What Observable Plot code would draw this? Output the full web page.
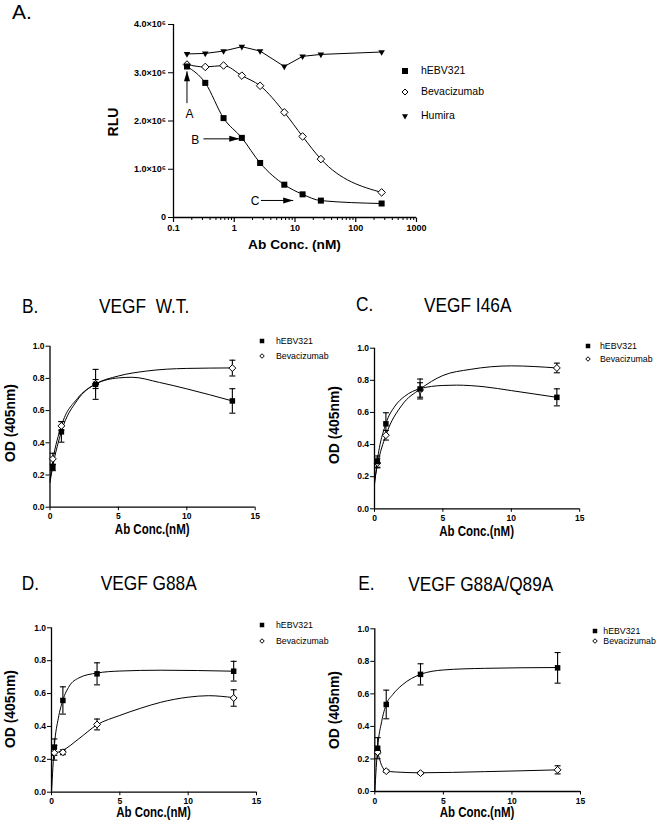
<!DOCTYPE html>
<html>
<head>
<meta charset="utf-8">
<script src="https://cdn.jsdelivr.net/npm/d3@7"></script>
<script src="https://cdn.jsdelivr.net/npm/@observablehq/plot@0.6"></script>
<style>
  body { margin: 0; background: #fff; }
  #fig { position: relative; width: 661px; height: 826px; overflow: hidden; background: #fff; color: #000; }
</style>
</head>
<body>
<div id="fig"></div>
<script>
// ---------------- Panel A data (luciferase, RLU vs Ab conc.) ----------------
const seriesA = ["hEBV321", "Bevacizumab", "Humira"];
const concA = [0.1667, 0.3333, 0.6667, 1.333, 2.667, 6.667, 13.33, 26.67, 266.7];
const rluHEBV = [3.13e6, 2.79e6, 2.06e6, 1.65e6, 1.13e6, 0.68e6, 0.48e6, 0.35e6, 0.29e6];
const rluBev = [3.17e6, 3.12e6, 3.15e6, 2.94e6, 2.73e6, 2.18e6, 1.68e6, 1.21e6, 0.52e6];
const rluHumira = [3.39e6, 3.40e6, 3.45e6, 3.54e6, 3.45e6, 3.13e6, 3.34e6, 3.38e6, 3.43e6];
const xTicksA = [0.1, 1, 10, 100, 1000];
const xTickLabelsA = ["0.1", "1", "10", "100", "1000"];
const yTicksA = [0, 1e6, 2e6, 3e6, 4e6];
const yTickLabelsA = ["0", "1.0×10⁶", "2.0×10⁶", "3.0×10⁶", "4.0×10⁶"];
// annotation arrows (data coordinates)
const arrowLabels = ["A", "B", "C"];
const arrowFromX = [0.1667, 0.311, 2.75];
const arrowFromY = [2.37e6, 1.63e6, 0.353e6];
const arrowToX = [0.1667, 1.21, 9.34];
const arrowToY = [3.03e6, 1.63e6, 0.353e6];
const arrowDir = [0, 90, 90];
const arrowLabelX = [0.183, 0.227, 2.2];
const arrowLabelY = [2.14e6, 1.60e6, 0.33e6];

// ---------------- Panels B-E data (ELISA OD405 vs Ab conc.) ----------------
const seriesOD = ["hEBV321", "Bevacizumab"];
const concOD = [0.2083, 0.8333, 3.333, 13.33];
const xTicksOD = [0, 5, 10, 15];
const xTickLabelsOD = ["0", "5", "10", "15"];
const yTicksOD = [0, 0.2, 0.4, 0.6, 0.8, 1.0];
const yTickLabelsOD = ["0.0", "0.2", "0.4", "0.6", "0.8", "1.0"];

// B: VEGF W.T.
const odB_h = [0.247, 0.468, 0.763, 0.660];
const semB_h = [0.02, 0.064, 0.093, 0.076];
const odB_b = [0.300, 0.505, 0.765, 0.864];
const semB_b = [0.035, 0.027, 0.028, 0.049];
const fitB_hX = [0, 0.2083, 0.8333, 2, 3.333, 5, 6, 8, 10, 13.33];
const fitB_hY = [0.155, 0.255, 0.47, 0.665, 0.765, 0.803, 0.807, 0.775, 0.735, 0.66];
const fitB_bX = [0, 0.2083, 0.8333, 2, 3.333, 5, 7, 10, 13.33];
const fitB_bY = [0.17, 0.29, 0.505, 0.675, 0.765, 0.815, 0.845, 0.862, 0.865];

// C: VEGF I46A
const odC_h = [0.294, 0.529, 0.746, 0.694];
const semC_h = [0.035, 0.069, 0.062, 0.053];
const odC_b = [0.285, 0.458, 0.740, 0.877];
const semC_b = [0.03, 0.03, 0.045, 0.03];
const fitC_hX = [0, 0.2083, 0.8333, 1.5, 2.2, 3.333, 5, 6, 8, 10, 13.33];
const fitC_hY = [0.15, 0.30, 0.53, 0.64, 0.70, 0.748, 0.768, 0.77, 0.76, 0.736, 0.694];
const fitC_bX = [0, 0.2083, 0.8333, 2, 3.333, 5, 7, 10, 13.33];
const fitC_bY = [0.17, 0.27, 0.458, 0.645, 0.745, 0.83, 0.868, 0.89, 0.877];

// D: VEGF G88A
const odD_h = [0.274, 0.558, 0.720, 0.736];
const semD_h = [0.05, 0.083, 0.067, 0.06];
const odD_b = [0.240, 0.243, 0.412, 0.573];
const semD_b = [0.045, 0.015, 0.033, 0.05];
const fitD_hX = [0, 0.2083, 0.5, 0.8333, 1.3, 2, 3.333, 5, 8, 13.33];
const fitD_hY = [0, 0.28, 0.45, 0.56, 0.645, 0.695, 0.725, 0.737, 0.742, 0.736];
const fitD_bX = [0, 0.2083, 0.8333, 2, 3.333, 5, 6.5, 8, 10, 11.5, 13.33];
const fitD_bY = [0.235, 0.238, 0.255, 0.325, 0.41, 0.467, 0.51, 0.547, 0.578, 0.587, 0.575];

// E: VEGF G88A/Q89A
const odE_h = [0.266, 0.535, 0.720, 0.760];
const semE_h = [0.065, 0.088, 0.065, 0.094];
const odE_b = [0.242, 0.125, 0.113, 0.133];
const semE_b = [0.01, 0.008, 0.006, 0.025];
const fitE_hX = [0, 0.2083, 0.5, 0.8333, 1.3, 2, 3.333, 5, 8, 13.33];
const fitE_hY = [0, 0.27, 0.43, 0.535, 0.595, 0.655, 0.72, 0.747, 0.757, 0.762];
const fitE_bX = [0.2083, 0.5, 0.8333, 1.5, 3.333, 8, 13.33];
const fitE_bY = [0.242, 0.16, 0.127, 0.12, 0.115, 0.122, 0.133];

// ---------------- helpers ----------------
const FONT = '"Liberation Sans", Arial, "DejaVu Sans", sans-serif';
const fig = document.getElementById("fig");
const svgNS = "http://www.w3.org/2000/svg";

const capSymbol = { draw(ctx) { ctx.moveTo(-3, 0); ctx.lineTo(3, 0); } };
const arrowHead = { draw(ctx) { ctx.moveTo(0, 0); ctx.lineTo(-3, 10); ctx.lineTo(3, 10); ctx.closePath(); } };
const majorTick = { draw(ctx) { ctx.moveTo(0, 0); ctx.lineTo(0, 4.5); } };
const minorTick = { draw(ctx) { ctx.moveTo(0, 0); ctx.lineTo(0, 2.5); } };

function baseStyle(size) {
  return { fontFamily: FONT, fontSize: size + "px", fontWeight: "bold", background: "transparent", overflow: "visible", color: "black" };
}
function place(el, left, top) {
  el.style.position = "absolute";
  el.style.left = left + "px";
  el.style.top = top + "px";
  el.style.maxWidth = "none";
  fig.appendChild(el);
}
// text div whose box hugs the capital letters (line-height 0.75em)
function addText(str, { x, baseline, size, weight = "normal", anchor = "start", scaleY = 1 }) {
  const d = document.createElement("div");
  d.textContent = str;
  d.style.cssText = `position:absolute;white-space:pre;font-family:${FONT};font-size:${size}px;line-height:${0.75 * size}px;font-weight:${weight};left:${x}px;top:${baseline - 0.7215 * size}px;`;
  const tf = [];
  if (anchor === "middle") tf.push("translateX(-50%)");
  if (scaleY !== 1) tf.push(`scaleY(${scaleY})`);
  d.style.transformOrigin = `50% ${0.7215 * size}px`;
  d.style.transform = tf.join(" ");
  fig.appendChild(d);
}
function addVText(str, { cx, cy, size, weight = "bold" }) {
  const d = document.createElement("div");
  d.textContent = str;
  d.style.cssText = `position:absolute;white-space:pre;font-family:${FONT};font-size:${size}px;line-height:${0.75 * size}px;font-weight:${weight};left:${cx}px;top:${cy}px;transform:translate(-50%,-50%) rotate(-90deg);`;
  fig.appendChild(d);
}
function symbolPath(kind, s) {
  if (kind === "square") return d3.symbol(d3.symbolSquare, s * s)();
  if (kind === "diamond") return d3.symbol(d3.symbolDiamond2, Math.pow(s / 0.62625 / 2, 2))();
  return d3.symbol(d3.symbolTriangle2, Math.pow(s / 1.1821, 2))();
}
function addLegend({ markerX, textX, rows, size, labels, kinds, symSize }) {
  labels.forEach((label, i) => {
    const y = rows[i];
    const s = document.createElementNS(svgNS, "svg");
    s.setAttribute("width", 14); s.setAttribute("height", 14);
    s.style.cssText = `position:absolute;left:${markerX - 7}px;top:${y - 7}px;overflow:visible;`;
    const p = document.createElementNS(svgNS, "path");
    p.setAttribute("d", symbolPath(kinds[i], symSize));
    if (kinds[i] === "diamond") { p.setAttribute("fill", "white"); p.setAttribute("stroke", "black"); p.setAttribute("stroke-width", "1"); }
    else p.setAttribute("fill", "black");
    let tr = "translate(7,7)";
    if (kinds[i] === "triangle") tr += " rotate(180)";
    p.setAttribute("transform", tr);
    s.appendChild(p);
    fig.appendChild(s);
    addText(label, { x: textX, baseline: y + 0.358 * size, size });
  });
}

// ---------------- Panel A ----------------
const rowsA = concA.map((c, i) => ({ c, h: rluHEBV[i], b: rluBev[i], m: rluHumira[i] }));
const arrows = arrowLabels.map((label, i) => ({
  label, x1: arrowFromX[i], y1: arrowFromY[i], x2: arrowToX[i], y2: arrowToY[i],
  rot: arrowDir[i], lx: arrowLabelX[i], ly: arrowLabelY[i]
}));
const minorA = [];
for (const d of [0.1, 1, 10, 100]) for (let k = 2; k <= 9; k++) minorA.push(d * k);

const plotA = Plot.plot({
  width: 661, height: 262,
  marginTop: 24, marginLeft: 173, marginRight: 245, marginBottom: 45,
  x: { type: "log", domain: [0.1, 1000] },
  y: { domain: [0, 4e6] },
  style: baseStyle(9),
  marks: [
    Plot.axisX({ ticks: xTicksA, tickSize: 0, tickPadding: 7.5, tickFormat: (d) => xTickLabelsA[xTicksA.indexOf(d)], label: null }),
    Plot.dot(minorA, { x: (d) => d, y: () => 0, symbol: minorTick, stroke: "black", strokeWidth: 1 }),
    Plot.dot(xTicksA, { x: (d) => d, y: () => 0, symbol: majorTick, stroke: "black", strokeWidth: 1.2 }),
    Plot.axisY({ ticks: yTicksA, tickSize: 5, tickPadding: 2.5, tickFormat: (d) => yTickLabelsA[yTicksA.indexOf(d)], label: null }),
    Plot.ruleX([0.1], { strokeWidth: 1.3 }),
    Plot.ruleY([0], { strokeWidth: 1.3 }),
    Plot.line(rowsA, { x: "c", y: "m", stroke: "black", strokeWidth: 1 }),
    Plot.line(rowsA, { x: "c", y: "b", curve: "monotone-x", stroke: "black", strokeWidth: 1 }),
    Plot.line(rowsA, { x: "c", y: "h", curve: "monotone-x", stroke: "black", strokeWidth: 1 }),
    Plot.link(arrows, { x1: "x1", y1: "y1", x2: "x2", y2: "y2", stroke: "black", strokeWidth: 1 }),
    Plot.dot(arrows, { x: "x2", y: "y2", symbol: arrowHead, rotate: "rot", fill: "black", stroke: "none" }),
    Plot.text(arrows, { x: "lx", y: "ly", text: "label", fontSize: 12, fontWeight: "normal" }),
    Plot.dot(rowsA, { x: "c", y: "m", symbol: "triangle2", rotate: 180, r: 3.1, fill: "black" }),
    Plot.dot(rowsA, { x: "c", y: "b", symbol: "diamond2", r: 3.4, fill: "white", stroke: "black", strokeWidth: 1 }),
    Plot.dot(rowsA, { x: "c", y: "h", symbol: "square", r: 3.4, fill: "black" })
  ]
});
place(plotA, 0, 0);

// ---------------- Panels B-E ----------------
function odPanel(p) {
  const pts = (ys, sem) => concOD.map((c, i) => ({ c, y: ys[i], lo: ys[i] - sem[i], hi: ys[i] + sem[i] }));
  const H = pts(p.hY, p.hSem), B = pts(p.bY, p.bSem);
  const fitH = p.hFitX.map((x, i) => ({ x, y: p.hFitY[i] }));
  const fitB = p.bFitX.map((x, i) => ({ x, y: p.bFitY[i] }));
  const errMarks = (D) => [
    Plot.ruleX(D, { x: "c", y1: "lo", y2: "hi", stroke: "black", strokeWidth: 1.1 }),
    Plot.dot(D, { x: "c", y: "lo", symbol: capSymbol, stroke: "black", strokeWidth: 1.1 }),
    Plot.dot(D, { x: "c", y: "hi", symbol: capSymbol, stroke: "black", strokeWidth: 1.1 })
  ];
  return Plot.plot({
    width: p.width, height: p.height,
    marginTop: p.mt, marginRight: p.mr, marginBottom: p.mb, marginLeft: p.ml,
    x: { domain: [0, 15] },
    y: { domain: [0, 1] },
    style: baseStyle(8.5),
    marks: [
      Plot.axisX({ ticks: xTicksOD, tickSize: 3.5, tickPadding: 2.5, tickFormat: (d) => xTickLabelsOD[xTicksOD.indexOf(d)], label: null }),
      Plot.axisY({ ticks: yTicksOD, tickSize: 4, tickPadding: 1.5, tickFormat: (d) => yTickLabelsOD[yTicksOD.indexOf(d)], label: null }),
      Plot.ruleX([0], { strokeWidth: 1.3 }),
      Plot.ruleY([0], { strokeWidth: 1.3 }),
      Plot.line(fitB, { x: "x", y: "y", curve: "monotone-x", stroke: "black", strokeWidth: 1 }),
      Plot.line(fitH, { x: "x", y: "y", curve: "monotone-x", stroke: "black", strokeWidth: 1 }),
      ...errMarks(B),
      ...errMarks(H),
      Plot.dot(B, { x: "c", y: "y", symbol: "diamond2", r: 3.1, fill: "white", stroke: "black", strokeWidth: 1 }),
      Plot.dot(H, { x: "c", y: "y", symbol: "square", r: 3.1, fill: "black" })
    ]
  });
}

const panels = [
  { left: 0, top: 330, width: 330, height: 200, ml: 49.5, mr: 75.3, mt: 15.7, mb: 23.3,
    hY: odB_h, hSem: semB_h, bY: odB_b, bSem: semB_b, hFitX: fitB_hX, hFitY: fitB_hY, bFitX: fitB_bX, bFitY: fitB_bY },
  { left: 330, top: 330, width: 331, height: 200, ml: 44, mr: 81.8, mt: 17.7, mb: 21.7,
    hY: odC_h, hSem: semC_h, bY: odC_b, bSem: semC_b, hFitX: fitC_hX, hFitY: fitC_hY, bFitX: fitC_bX, bFitY: fitC_bY },
  { left: 0, top: 610, width: 330, height: 200, ml: 51, mr: 74, mt: 17.3, mb: 18.3,
    hY: odD_h, hSem: semD_h, bY: odD_b, bSem: semD_b, hFitX: fitD_hX, hFitY: fitD_hY, bFitX: fitD_bX, bFitY: fitD_bY },
  { left: 330, top: 610, width: 331, height: 200, ml: 44.3, mr: 81, mt: 18.3, mb: 19,
    hY: odE_h, hSem: semE_h, bY: odE_b, bSem: semE_b, hFitX: fitE_hX, hFitY: fitE_hY, bFitX: fitE_bX, bFitY: fitE_bY }
];
panels.forEach(p => place(odPanel(p), p.left, p.top));

// ---------------- Text: panel letters, titles, axis labels, legends ----------------
const TS = 17.3, TY = 1.18;
addText("A.", { x: 12, baseline: 19.5, size: 21 });
addVText("RLU", { cx: 113, cy: 122, size: 14 });
addText("Ab Conc. (nM)", { x: 294.5, baseline: 250, size: 13.7, weight: "bold", anchor: "middle" });
addLegend({ markerX: 405, textX: 421, rows: [71, 92, 116], size: 10.5, labels: seriesA, kinds: ["square", "diamond", "triangle"], symSize: 6 });

addText("B.", { x: 22, baseline: 313, size: TS, scaleY: TY });
addText("VEGF  W.T.", { x: 99, baseline: 313, size: TS, scaleY: TY });
addText("C.", { x: 356, baseline: 311.7, size: TS, scaleY: TY });
addText("VEGF I46A", { x: 424, baseline: 312, size: TS, scaleY: TY });
addText("D.", { x: 21.7, baseline: 590, size: TS, scaleY: TY });
addText("VEGF G88A", { x: 100.7, baseline: 590, size: TS, scaleY: TY });
addText("E.", { x: 358.3, baseline: 590.7, size: TS, scaleY: TY });
addText("VEGF G88A/Q89A", { x: 408.3, baseline: 591, size: TS, scaleY: TY });

const odLab = "OD (405nm)", xLab = "Ab Conc.(nM)";
addVText(odLab, { cx: 10, cy: 423, size: 13.9 });
addVText(odLab, { cx: 334, cy: 425, size: 13.9 });
addVText(odLab, { cx: 10, cy: 709, size: 13.9 });
addVText(odLab, { cx: 334, cy: 710, size: 13.9 });
addText(xLab, { x: 152.2, baseline: 534, size: 11.5, weight: "bold", anchor: "middle", scaleY: 1.2 });
addText(xLab, { x: 476.6, baseline: 536, size: 11.5, weight: "bold", anchor: "middle", scaleY: 1.2 });
addText(xLab, { x: 153.5, baseline: 817.5, size: 11.5, weight: "bold", anchor: "middle", scaleY: 1.2 });
addText(xLab, { x: 477, baseline: 817, size: 11.5, weight: "bold", anchor: "middle", scaleY: 1.2 });

const kindsOD = ["square", "diamond"];
addLegend({ markerX: 262, textX: 276, rows: [341, 355.7], size: 8.75, labels: seriesOD, kinds: kindsOD, symSize: 4.5 });
addLegend({ markerX: 587.7, textX: 600, rows: [345.7, 358.7], size: 8.75, labels: seriesOD, kinds: kindsOD, symSize: 4.5 });
addLegend({ markerX: 261.7, textX: 276, rows: [625, 640.7], size: 8.75, labels: seriesOD, kinds: kindsOD, symSize: 4.5 });
addLegend({ markerX: 595, textX: 603.3, rows: [631, 640.7], size: 8.75, labels: seriesOD, kinds: kindsOD, symSize: 4.5 });
</script>
</body>
</html>
